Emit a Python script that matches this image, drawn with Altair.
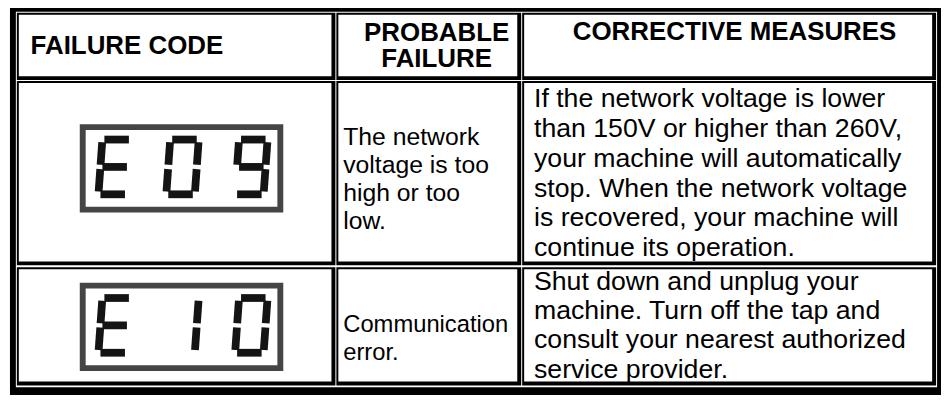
import altair as alt
import pandas as pd

# ---------------- content ----------------
failure_codes = ["E09", "E10"]
header_left = ["FAILURE CODE"]
header_center = ["PROBABLE", "FAILURE", "CORRECTIVE MEASURES"]
probable_failures = [
    ["The network", "voltage is too", "high or too", "low."],
    ["Communication", "error."],
]
corrective_measures = [
    ["If the network voltage is lower",
     "than 150V or higher than 260V,",
     "your machine will automatically",
     "stop. When the network voltage",
     "is recovered, your machine will",
     "continue its operation."],
    ["Shut down and unplug your",
     "machine. Turn off the tap and",
     "consult your nearest authorized",
     "service provider."],
]
# seven-segment patterns of the display characters
seg_on = {"E": "adefg", "0": "abcdef", "9": "abcdfg", "1": "bc"}

# ---------------- layout (reference pixels) ----------------
REF_W, REF_H = 949, 403
W, H = 933, 387
FS = 0.97
col_edges = [(9, 333), (334, 522), (523, 944)]
row_edges = [(5, 75), (76, 268), (270, 393)]
THIN, THICK = 2, 4

seg_geom = {
    "a": (0.07, 0.0, 0.93, 0.0),
    "b": (1.0, 0.05, 1.0, 0.46),
    "c": (1.0, 0.54, 1.0, 0.95),
    "d": (0.07, 1.0, 0.93, 1.0),
    "e": (0.0, 0.54, 0.0, 0.95),
    "f": (0.0, 0.05, 0.0, 0.46),
    "g": (0.07, 0.5, 0.93, 0.5),
}
slot_x = [92, 161, 231]
DW, DH, SLANT = 29, 57, 4
box_top = [121, 286]

frame_black = pd.DataFrame([dict(x=2, x2=949, y=0, y2=403)])
frame_white = pd.DataFrame([dict(x=8, x2=945, y=4, y2=395)])
cell_black, cell_white = [], []
for (y1, y2) in row_edges:
    for (x1, x2) in col_edges:
        cell_black.append(dict(x=x1, x2=x2, y=y1, y2=y2))
        cell_white.append(dict(x=x1 + THIN, x2=x2 - THICK, y=y1 + THIN, y2=y2 - THICK))
cell_black = pd.DataFrame(cell_black)
cell_white = pd.DataFrame(cell_white)

lcd_outer, lcd_inner, segs = [], [], []
for i, code in enumerate(failure_codes):
    t = box_top[i]
    lcd_outer.append(dict(x=73, x2=280, y=t, y2=t + 92))
    lcd_inner.append(dict(x=79, x2=274, y=t + 6, y2=t + 86))
    top = t + 16
    for j, ch in enumerate(code):
        for s in seg_on[ch]:
            u1, v1, u2, v2 = seg_geom[s]
            segs.append(dict(
                x=slot_x[j] + u1 * DW + SLANT * (1 - v1), y=top + v1 * DH,
                x2=slot_x[j] + u2 * DW + SLANT * (1 - v2), y2=top + v2 * DH))
lcd_outer = pd.DataFrame(lcd_outer)
lcd_inner = pd.DataFrame(lcd_inner)
segs = pd.DataFrame(segs)

hl = pd.DataFrame([dict(t=header_left[0], x=23, y=40)])
hc = pd.DataFrame([
    dict(t=header_center[0], x=436, y=26),
    dict(t=header_center[1], x=436, y=53),
    dict(t=header_center[2], x=739, y=25),
])
body = []
for k, line in enumerate(probable_failures[0]):
    body.append(dict(t=line, x=341, y=135.5 + 29 * k, s=25.5 * FS))
for k, line in enumerate(probable_failures[1]):
    body.append(dict(t=line, x=341, y=330 + 29 * k, s=24.5 * FS))
for k, line in enumerate(corrective_measures[0]):
    body.append(dict(t=line, x=535, y=95 + 31 * k, s=27.5 * FS))
for k, line in enumerate(corrective_measures[1]):
    body.append(dict(t=line, x=535, y=285 + 30.5 * k, s=27.5 * FS))
body = pd.DataFrame(body)

xs = alt.Scale(domain=[0, REF_W], nice=False, zero=False)
ys = alt.Scale(domain=[0, REF_H], nice=False, zero=False, reverse=True)


def rect_layer(df, color):
    return alt.Chart(df).mark_rect(color=color).encode(
        x=alt.X("x:Q", scale=xs, axis=None), x2="x2:Q",
        y=alt.Y("y:Q", scale=ys, axis=None), y2="y2:Q")


layers = [
    rect_layer(frame_black, "#000000"),
    rect_layer(frame_white, "#ffffff"),
    rect_layer(cell_black, "#000000"),
    rect_layer(cell_white, "#ffffff"),
    rect_layer(lcd_outer, "#454545"),
    rect_layer(lcd_inner, "#ffffff"),
    alt.Chart(segs).mark_rule(color="#141414", strokeWidth=8 * FS, strokeCap="butt").encode(
        x=alt.X("x:Q", scale=xs, axis=None), x2="x2:Q",
        y=alt.Y("y:Q", scale=ys, axis=None), y2="y2:Q"),
    alt.Chart(hl).mark_text(font="Liberation Sans", fontWeight="bold", fontSize=26.7 * FS,
                            align="left", baseline="middle", color="#000000").encode(
        x=alt.X("x:Q", scale=xs, axis=None), y=alt.Y("y:Q", scale=ys, axis=None), text="t:N"),
    alt.Chart(hc).mark_text(font="Liberation Sans", fontWeight="bold", fontSize=26.7 * FS,
                            align="center", baseline="middle", color="#000000").encode(
        x=alt.X("x:Q", scale=xs, axis=None), y=alt.Y("y:Q", scale=ys, axis=None), text="t:N"),
    alt.Chart(body).mark_text(font="Liberation Sans", align="left", baseline="middle",
                              color="#000000").encode(
        x=alt.X("x:Q", scale=xs, axis=None), y=alt.Y("y:Q", scale=ys, axis=None),
        size=alt.Size("s:Q", scale=None, legend=None), text="t:N"),
]

chart = alt.layer(*layers).properties(
    width=W, height=H, padding=0, autosize="none", background="white"
).configure_view(stroke=None)

chart.save("out.html", embed_options={"renderer": "svg", "actions": False})
